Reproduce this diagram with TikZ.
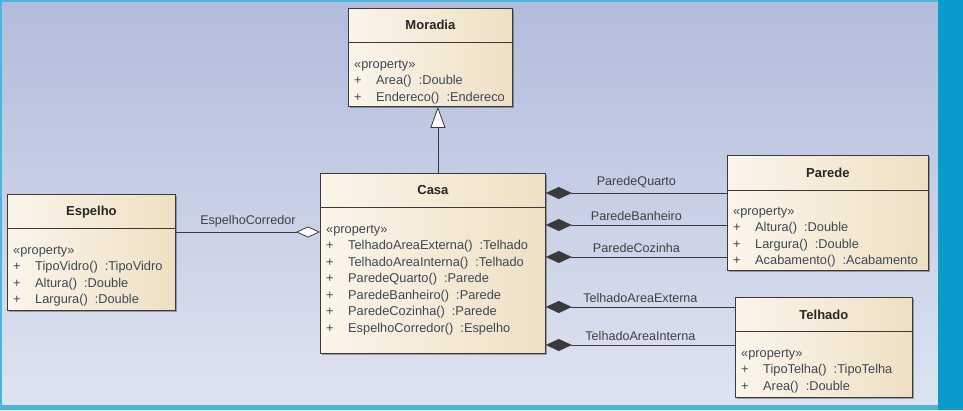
\documentclass[tikz,border=0pt]{standalone}
\usepackage{fontspec}
\setmainfont{Liberation Sans}
\usetikzlibrary{arrows.meta,calc,shadows}

\definecolor{bgtop}{HTML}{B2BCDB}
\definecolor{bgbot}{HTML}{DFE4F1}
\definecolor{frameblue}{HTML}{0B9BCB}
\definecolor{framelight}{HTML}{4CB5DD}
\definecolor{boxline}{HTML}{3A3A3A}
\definecolor{boxleft}{HTML}{FBF5EA}
\definecolor{boxright}{HTML}{EFE0C4}
\definecolor{membertext}{HTML}{3C4856}

\newcommand{\umlop}[2]{\makebox[22pt][l]{+}#1\hspace{7pt}:#2}

\tikzset{
  classbox/.style={draw=boxline, line width=0.8pt, anchor=north west, inner sep=0pt,
    left color=boxleft, right color=boxright,
    drop shadow={shadow xshift=2pt, shadow yshift=-2pt, opacity=0.3, fill=black}},
  classname/.style={font=\fontsize{13}{15}\selectfont\bfseries, text=black!85},
  members/.style={anchor=north west, align=left, inner sep=0pt, text=membertext,
    font=\fontsize{12.8}{16.5}\selectfont},
  assoc/.style={draw=boxline, line width=0.8pt},
  comp/.style={assoc, {Diamond[length=26pt,width=12pt]}-},
  aggr/.style={assoc, {Diamond[length=24pt,width=11pt,fill=white]}-},
  gen/.style={assoc, -{Triangle[length=21pt,width=15pt,fill=white]}},
  role/.style={midway, above=1pt, font=\fontsize{12.6}{14}\selectfont, text=black!75},
}

\begin{document}
\begin{tikzpicture}[x=1pt, y=-1pt]
  \useasboundingbox (0,0) rectangle (963,410);
  % background and frame
  \fill[top color=bgtop, bottom color=bgbot] (0,0) rectangle (963,410);
  \fill[framelight] (0,0) rectangle (938,2);
  \fill[framelight] (0,0) rectangle (2,410);
  \fill[framelight] (0,405) rectangle (938,410);
  \fill[frameblue] (938,0) rectangle (963,410);

  % Moradia
  \node[classbox, minimum width=164pt, minimum height=98pt] (moradia) at (348,8) {};
  \draw[assoc] ($(moradia.north west)+(0,34)$) -- ($(moradia.north east)+(0,34)$);
  \node[classname] (moradiaName) at ($(moradia.north)+(0,17)$) {Moradia};
  \node[members] (moradiaOps) at ($(moradia.north west)+(6,52)$)
    {«property»\\ \umlop{Area()}{Double}\\ \umlop{Endereco()}{Endereco}};

  % Casa
  \node[classbox, minimum width=225pt, minimum height=180pt] (casa) at (320,173) {};
  \draw[assoc] ($(casa.north west)+(0,34)$) -- ($(casa.north east)+(0,34)$);
  \node[classname] (casaName) at ($(casa.north)+(0,17)$) {Casa};
  \node[members] (casaOps) at ($(casa.north west)+(6,52)$)
    {«property»\\
     \umlop{TelhadoAreaExterna()}{Telhado}\\
     \umlop{TelhadoAreaInterna()}{Telhado}\\
     \umlop{ParedeQuarto()}{Parede}\\
     \umlop{ParedeBanheiro()}{Parede}\\
     \umlop{ParedeCozinha()}{Parede}\\
     \umlop{EspelhoCorredor()}{Espelho}};

  % Espelho
  \node[classbox, minimum width=168pt, minimum height=116pt] (espelho) at (7,194) {};
  \draw[assoc] ($(espelho.north west)+(0,34)$) -- ($(espelho.north east)+(0,34)$);
  \node[classname] (espelhoName) at ($(espelho.north)+(0,18)$) {Espelho};
  \node[members] (espelhoOps) at ($(espelho.north west)+(6,52)$)
    {«property»\\ \umlop{TipoVidro()}{TipoVidro}\\ \umlop{Altura()}{Double}\\
     \umlop{Largura()}{Double}};

  % Parede
  \node[classbox, minimum width=201pt, minimum height=115pt] (parede) at (727,155) {};
  \draw[assoc] ($(parede.north west)+(0,35)$) -- ($(parede.north east)+(0,35)$);
  \node[classname] (paredeName) at ($(parede.north)+(0,18)$) {Parede};
  \node[members] (paredeOps) at ($(parede.north west)+(6,52)$)
    {«property»\\ \umlop{Altura()}{Double}\\ \umlop{Largura()}{Double}\\
     \umlop{Acabamento()}{Acabamento}};

  % Telhado
  \node[classbox, minimum width=177pt, minimum height=100pt] (telhado) at (735,297) {};
  \draw[assoc] ($(telhado.north west)+(0,34)$) -- ($(telhado.north east)+(0,34)$);
  \node[classname] (telhadoName) at ($(telhado.north)+(0,18)$) {Telhado};
  \node[members] (telhadoOps) at ($(telhado.north west)+(6,52)$)
    {«property»\\ \umlop{TipoTelha()}{TipoTelha}\\ \umlop{Area()}{Double}};

  % connector levels
  \coordinate (genfoot) at ($(casa.north)+(5,0)$);
  \coordinate (espCorr) at ($(espelho.north east)+(0,38)$);
  \coordinate (quarto) at ($(parede.north west)+(0,38)$);
  \coordinate (banheiro) at ($(parede.north west)+(0,70)$);
  \coordinate (cozinha) at ($(parede.north west)+(0,102)$);
  \coordinate (externa) at ($(telhado.north west)+(0,10)$);
  \coordinate (interna) at ($(telhado.north west)+(0,48)$);

  % connectors
  \draw[gen] (genfoot) -- (genfoot |- moradia.south);
  \draw[aggr] (casa.west |- espCorr) -- (espCorr) node[role] {EspelhoCorredor};
  \draw[comp] (casa.east |- quarto) -- (quarto) node[role] {ParedeQuarto};
  \draw[comp] (casa.east |- banheiro) -- (banheiro) node[role] {ParedeBanheiro};
  \draw[comp] (casa.east |- cozinha) -- (cozinha) node[role] {ParedeCozinha};
  \draw[comp] (casa.east |- externa) -- (externa) node[role] {TelhadoAreaExterna};
  \draw[comp] (casa.east |- interna) -- (interna) node[role] {TelhadoAreaInterna};
\end{tikzpicture}
\end{document}
